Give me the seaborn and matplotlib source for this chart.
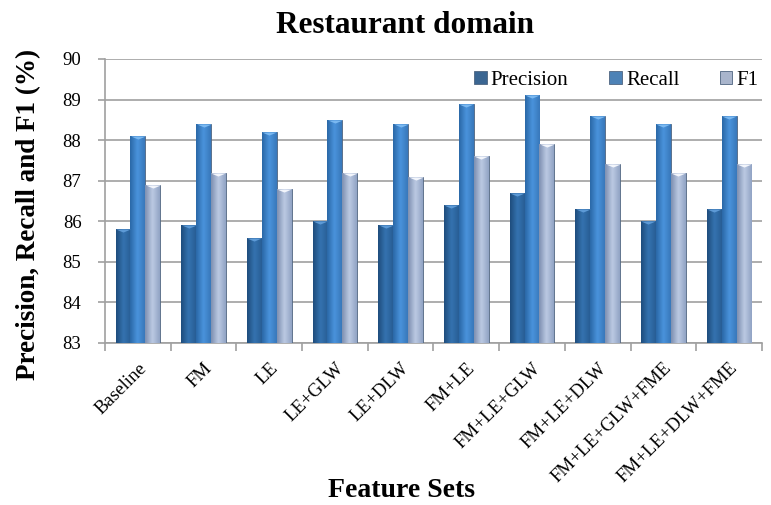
import numpy as np
import pandas as pd
import matplotlib
matplotlib.use("Agg")
import matplotlib.pyplot as plt
import seaborn as sns
from matplotlib.colors import LinearSegmentedColormap

feature_sets = ["Baseline", "FM", "LE", "LE+GLW", "LE+DLW", "FM+LE",
                "FM+LE+GLW", "FM+LE+DLW", "FM+LE+GLW+FME", "FM+LE+DLW+FME"]
precision = [85.8, 85.9, 85.6, 86.0, 85.9, 86.4, 86.7, 86.3, 86.0, 86.3]
recall = [88.1, 88.4, 88.2, 88.5, 88.4, 88.9, 89.1, 88.6, 88.4, 88.6]
f1 = [86.9, 87.2, 86.8, 87.2, 87.1, 87.6, 87.9, 87.4, 87.2, 87.4]
metrics = ["Precision", "Recall", "F1"]
y_ticks = [83, 84, 85, 86, 87, 88, 89, 90]

df = pd.DataFrame({"Feature": feature_sets * 3,
                   "Metric": np.repeat(metrics, len(feature_sets)),
                   "Score": precision + recall + f1})

sns.set_theme(style="white")
plt.rcParams["font.family"] = ["Liberation Serif", "DejaVu Serif"]
plt.rcParams["text.color"] = "black"
plt.rcParams["axes.labelcolor"] = "black"
plt.rcParams["xtick.color"] = "black"
plt.rcParams["ytick.color"] = "black"

palette = {"Precision": "#2d66a0", "Recall": "#3b82c8", "F1": "#a3b3d2"}
shades = {
    "Precision": ["#1e4c7c", "#3573b0", "#285d95"],
    "Recall": ["#2a68a6", "#4a93dc", "#3878ba"],
    "F1": ["#7d8fb0", "#bccae3", "#91a3c4"],
}
cap_colors = {"Precision": "#5d9ad6", "Recall": "#7ab8f0", "F1": "#f2f5fb"}
y_min, y_max = y_ticks[0], y_ticks[-1]

fig = plt.figure(figsize=(7.71, 5.05), dpi=100)
ax = fig.add_axes([0.1362, 0.3208, 0.852, 0.5624])

sns.barplot(data=df, x="Feature", y="Score", hue="Metric", order=feature_sets,
            hue_order=metrics, palette=palette, width=0.68, ax=ax,
            edgecolor="#4f6580", linewidth=0.6, zorder=3)

ax.set_ylim(y_min, y_max)
ax.set_yticks(y_ticks)
ax.set_xlim(-0.5, len(feature_sets) - 0.5)

# horizontal shading inside every bar, kept within the visible range
grad = np.linspace(0, 1, 64).reshape(1, -1)
cap = [(-1.0, 0.0), (1.0, 0.0), (0.0, -0.42), (-1.0, 0.0)]
for container, metric in zip(ax.containers, metrics):
    cmap = LinearSegmentedColormap.from_list(metric, shades[metric])
    xs, tops = [], []
    for patch in container.patches:
        x0 = patch.get_x()
        w, h = patch.get_width(), patch.get_height()
        top = patch.get_y() + h
        im = ax.imshow(grad, extent=(x0, x0 + w, y_min, top), cmap=cmap,
                       aspect="auto", zorder=3.5, interpolation="bicubic")
        im.set_clip_path(patch)
        xs.append(x0 + w / 2)
        tops.append(top)
    # light bevel at the top of each bar
    ax.plot(xs, tops, linestyle="none", marker=cap, markersize=10.5,
            markerfacecolor=cap_colors[metric], markeredgewidth=0, zorder=4)
ax.set_xlim(-0.5, len(feature_sets) - 0.5)
ax.set_ylim(y_min, y_max)

ax.yaxis.grid(True, color="#a0a0a0", linewidth=1.2, zorder=0)
ax.set_axisbelow(True)
for s in ["top", "right"]:
    ax.spines[s].set_visible(False)
for s in ["left", "bottom"]:
    ax.spines[s].set_color("#a0a0a0")
    ax.spines[s].set_linewidth(1.2)

ax.tick_params(axis="y", length=5, color="#a0a0a0", width=1.2, labelsize=13.5,
               left=True, pad=12, labelcolor="black")
ax.set_xticks(range(len(feature_sets)))
ax.set_xticklabels(feature_sets, rotation=45, ha="right", rotation_mode="anchor",
                   fontsize=13.5)
ax.tick_params(axis="x", length=0, pad=12, labelcolor="black")
ax.set_xticks(np.arange(-0.5, len(feature_sets)), minor=True)
ax.tick_params(axis="x", which="minor", length=6, color="#a0a0a0", width=1.2,
               bottom=True)

ax.set_xlabel("Feature Sets", fontsize=20, fontweight="bold")
ax.xaxis.set_label_coords(0.452, -0.475)
ax.set_ylabel("Precision, Recall and F1 (%)", fontsize=19.5, fontweight="bold")
ax.yaxis.set_label_coords(-0.098, 0.451)
ax.set_title("Restaurant domain", fontsize=22.5, fontweight="bold", x=0.457,
             pad=19)

handles, labels = ax.get_legend_handles_labels()
ax.legend(handles, labels, loc="center left", bbox_to_anchor=(0.562, 0.926),
          ncol=3, frameon=False, fontsize=15, handlelength=0.6,
          handleheight=0.6, columnspacing=1.95, handletextpad=0.2,
          borderaxespad=0, borderpad=0)

fig.savefig("out.png", dpi=100)
